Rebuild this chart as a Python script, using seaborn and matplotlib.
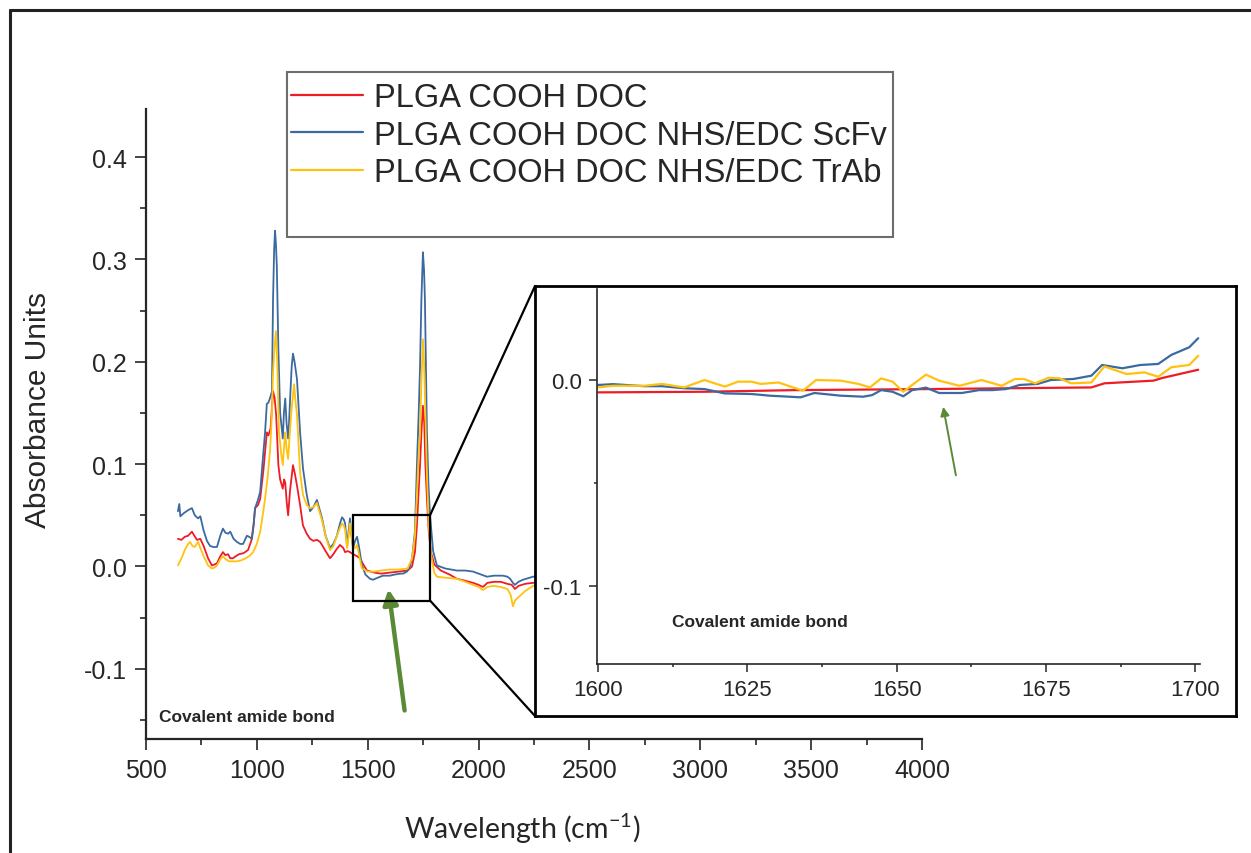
import numpy as np
import pandas as pd
import matplotlib
matplotlib.use("Agg")
import matplotlib.pyplot as plt
import seaborn as sns
from matplotlib.lines import Line2D
from matplotlib.patches import Rectangle
from matplotlib.ticker import MultipleLocator

# series names and colours
series_names = ["PLGA COOH DOC", "PLGA COOH DOC NHS/EDC ScFv", "PLGA COOH DOC NHS/EDC TrAb"]
series_colors = ["#ee1c25", "#3b6aa0", "#ffc20e"]

# main spectrum
red_wn = [644, 660, 675, 690, 707, 718, 730, 745, 760, 780, 797, 810, 820, 835, 847, 858, 870, 880, 892, 905,
          920, 940, 960, 975, 985, 992, 1005, 1015, 1030, 1045, 1052, 1062, 1073, 1080, 1087, 1097, 1105, 1117,
          1123, 1128, 1135, 1141, 1150, 1163, 1172, 1181, 1195, 1208, 1225, 1240, 1255, 1271, 1285, 1294, 1310,
          1330, 1345, 1360, 1375, 1390, 1398, 1410, 1420, 1434, 1452, 1465, 1480, 1497, 1530, 1560, 1600, 1640,
          1680, 1700, 1713, 1722, 1730, 1736, 1742, 1749, 1755, 1760, 1767, 1775, 1785, 1800, 1830, 1870, 1902,
          1940, 1975, 2000, 2020, 2040, 2070, 2100, 2130, 2150, 2164, 2180, 2210, 2246, 2300]
red_abs = [0.027, 0.026, 0.029, 0.030, 0.034, 0.030, 0.026, 0.027, 0.020, 0.008, 0.001, 0.002, 0.003, 0.010,
           0.014, 0.011, 0.012, 0.008, 0.008, 0.010, 0.012, 0.013, 0.016, 0.025, 0.040, 0.057, 0.060, 0.066,
           0.095, 0.131, 0.128, 0.135, 0.171, 0.165, 0.148, 0.099, 0.085, 0.076, 0.085, 0.082, 0.062, 0.050,
           0.075, 0.099, 0.090, 0.079, 0.060, 0.040, 0.032, 0.027, 0.025, 0.026, 0.024, 0.021, 0.015, 0.008,
           0.012, 0.017, 0.021, 0.018, 0.014, 0.015, 0.014, 0.012, 0.010, 0.008, 0.002, -0.004, -0.006, -0.007,
           -0.006, -0.005, -0.004, 0.000, 0.014, 0.040, 0.075, 0.099, 0.130, 0.157, 0.140, 0.100, 0.066, 0.035,
           0.014, 0.002, -0.004, -0.008, -0.012, -0.014, -0.016, -0.018, -0.020, -0.016, -0.015, -0.015, -0.017,
           -0.018, -0.022, -0.019, -0.017, -0.016, -0.015]

blue_wn = [644, 650, 655, 670, 690, 707, 720, 735, 745, 760, 775, 789, 805, 820, 835, 847, 858, 870, 880, 895,
           910, 925, 938, 955, 965, 978, 985, 992, 1005, 1015, 1025, 1037, 1045, 1052, 1060, 1068, 1073, 1078,
           1082, 1086, 1090, 1097, 1105, 1117, 1122, 1128, 1134, 1141, 1145, 1150, 1157, 1163, 1170, 1181, 1195,
           1208, 1225, 1240, 1255, 1271, 1280, 1294, 1310, 1330, 1345, 1361, 1375, 1384, 1392, 1398, 1407, 1414,
           1420, 1427, 1434, 1443, 1452, 1460, 1474, 1490, 1510, 1524, 1545, 1569, 1600, 1620, 1646, 1660, 1677,
           1690, 1700, 1713, 1722, 1730, 1736, 1742, 1749, 1754, 1758, 1763, 1767, 1774, 1781, 1795, 1812, 1850,
           1902, 1940, 1975, 2000, 2038, 2070, 2110, 2130, 2142, 2155, 2164, 2180, 2200, 2246, 2300]
blue_abs = [0.054, 0.061, 0.049, 0.052, 0.055, 0.057, 0.050, 0.047, 0.049, 0.035, 0.025, 0.020, 0.019, 0.019,
            0.030, 0.037, 0.033, 0.032, 0.034, 0.027, 0.024, 0.022, 0.022, 0.030, 0.029, 0.027, 0.040, 0.057,
            0.065, 0.073, 0.100, 0.131, 0.159, 0.160, 0.165, 0.171, 0.261, 0.310, 0.328, 0.315, 0.294, 0.213,
            0.150, 0.125, 0.150, 0.164, 0.140, 0.125, 0.140, 0.164, 0.195, 0.208, 0.200, 0.183, 0.131, 0.096,
            0.070, 0.054, 0.058, 0.065, 0.058, 0.047, 0.030, 0.018, 0.022, 0.030, 0.042, 0.048, 0.046, 0.042,
            0.020, 0.035, 0.047, 0.030, 0.018, 0.025, 0.029, 0.020, 0.001, -0.008, -0.012, -0.013, -0.011, -0.009,
            -0.009, -0.008, -0.007, -0.007, -0.005, 0.000, 0.008, 0.034, 0.099, 0.150, 0.196, 0.260, 0.307, 0.290,
            0.261, 0.190, 0.131, 0.080, 0.050, 0.015, 0.001, -0.002, -0.004, -0.004, -0.005, -0.007, -0.010,
            -0.009, -0.009, -0.010, -0.012, -0.016, -0.018, -0.015, -0.013, -0.010, -0.009]

yellow_wn = [644, 660, 675, 690, 698, 710, 720, 735, 745, 760, 780, 797, 810, 820, 835, 847, 860, 875, 890, 910,
             930, 950, 965, 983, 1000, 1015, 1025, 1037, 1050, 1060, 1068, 1073, 1080, 1086, 1092, 1100, 1110,
             1117, 1124, 1128, 1134, 1141, 1150, 1158, 1168, 1175, 1181, 1195, 1208, 1225, 1240, 1255, 1271, 1280,
             1294, 1310, 1330, 1345, 1361, 1375, 1384, 1392, 1398, 1407, 1414, 1420, 1427, 1434, 1443, 1452, 1462,
             1474, 1500, 1530, 1560, 1600, 1640, 1680, 1700, 1713, 1722, 1730, 1736, 1742, 1749, 1754, 1760, 1767,
             1775, 1785, 1800, 1812, 1850, 1902, 1940, 1975, 2000, 2020, 2040, 2070, 2100, 2130, 2145, 2155, 2165,
             2180, 2210, 2246, 2300]
yellow_abs = [0.001, 0.008, 0.016, 0.022, 0.024, 0.020, 0.019, 0.024, 0.018, 0.010, 0.001, -0.002, -0.001, 0.001,
              0.007, 0.010, 0.007, 0.005, 0.005, 0.005, 0.006, 0.008, 0.010, 0.014, 0.022, 0.034, 0.048, 0.066,
              0.090, 0.115, 0.150, 0.190, 0.215, 0.230, 0.200, 0.131, 0.110, 0.099, 0.120, 0.131, 0.115, 0.105,
              0.135, 0.157, 0.178, 0.160, 0.148, 0.092, 0.070, 0.060, 0.057, 0.058, 0.062, 0.055, 0.045, 0.030,
              0.016, 0.020, 0.030, 0.038, 0.042, 0.040, 0.036, 0.018, 0.030, 0.042, 0.030, 0.018, 0.018, 0.021,
              0.010, -0.002, -0.005, -0.005, -0.004, -0.003, -0.003, -0.002, 0.008, 0.030, 0.070, 0.110, 0.131,
              0.180, 0.222, 0.200, 0.150, 0.090, 0.040, 0.012, -0.006, -0.010, -0.011, -0.012, -0.015, -0.018,
              -0.020, -0.023, -0.020, -0.019, -0.020, -0.022, -0.028, -0.039, -0.033, -0.030, -0.024, -0.019, -0.017]

# zoomed region 1600-1700
red_zoom_wn = [1600, 1617.8, 1633, 1655, 1682.6, 1684.8, 1693, 1694.5, 1700.5]
red_zoom_abs = [-0.0060, -0.0057, -0.0049, -0.0044, -0.0036, -0.0016, -0.0003, 0.0010, 0.0050]

blue_zoom_wn = [1600, 1602.5, 1607.7, 1610.7, 1614.4, 1617.8, 1621.2, 1625.7, 1628.7, 1633.9, 1636.2, 1640.6,
                1644.4, 1645.9, 1647.4, 1649.3, 1651.1, 1652.6, 1654.9, 1657.1, 1660.9, 1663.8, 1666, 1668.3,
                1670.6, 1673.6, 1675.8, 1679.6, 1682.6, 1684.4, 1687.8, 1690.8, 1693.8, 1696.0, 1699.0, 1700.5]
blue_zoom_abs = [-0.0024, -0.0020, -0.0030, -0.0030, -0.0040, -0.0044, -0.0065, -0.0068, -0.0076, -0.0084,
                 -0.0063, -0.0076, -0.0081, -0.0073, -0.0049, -0.0057, -0.0079, -0.0049, -0.0037, -0.0063,
                 -0.0063, -0.0049, -0.0049, -0.0044, -0.0024, -0.0019, 0.0000, 0.0005, 0.0021, 0.0073, 0.0057,
                 0.0073, 0.0078, 0.0122, 0.0159, 0.0203]

yellow_zoom_wn = [1600, 1602.5, 1607.7, 1610.7, 1614.4, 1617.8, 1621.2, 1623.4, 1625.7, 1627.2, 1630.2, 1634.3,
                  1636.5, 1640.6, 1643.6, 1645.5, 1647.4, 1649.3, 1651.1, 1652.6, 1654.9, 1657.1, 1660.5, 1664.2,
                  1667.6, 1669.8, 1671.3, 1673.2, 1675.4, 1677.3, 1679.2, 1682.6, 1684.8, 1688.5, 1691.5, 1693.8,
                  1696.0, 1699.0, 1700.5]
yellow_zoom_abs = [-0.0036, -0.0028, -0.0028, -0.0019, -0.0036, 0.0000, -0.0032, -0.0008, -0.0008, -0.0019,
                   -0.0012, -0.0052, 0.0000, -0.0003, -0.0019, -0.0036, 0.0008, -0.0008, -0.0057, -0.0024,
                   0.0026, -0.0003, -0.0028, 0.0000, -0.0028, 0.0005, 0.0005, -0.0016, 0.0011, 0.0008, -0.0016,
                   -0.0012, 0.0066, 0.0029, 0.0037, 0.0016, 0.0062, 0.0073, 0.0118]

main_df = pd.concat([
    pd.DataFrame({"wn": red_wn, "abs": red_abs, "sample": series_names[0]}),
    pd.DataFrame({"wn": blue_wn, "abs": blue_abs, "sample": series_names[1]}),
    pd.DataFrame({"wn": yellow_wn, "abs": yellow_abs, "sample": series_names[2]}),
])
zoom_df = pd.concat([
    pd.DataFrame({"wn": red_zoom_wn, "abs": red_zoom_abs, "sample": series_names[0]}),
    pd.DataFrame({"wn": blue_zoom_wn, "abs": blue_zoom_abs, "sample": series_names[1]}),
    pd.DataFrame({"wn": yellow_zoom_wn, "abs": yellow_zoom_abs, "sample": series_names[2]}),
])
palette = dict(zip(series_names, series_colors))

sns.set_style("ticks")
plt.rcParams["font.family"] = ["Liberation Sans", "DejaVu Sans"]
plt.rcParams["axes.unicode_minus"] = False
plt.rcParams["mathtext.fontset"] = "custom"
plt.rcParams["mathtext.rm"] = "Lato"
plt.rcParams["mathtext.it"] = "Lato"

W, H = 1251, 854
fig = plt.figure(figsize=(W / 100, H / 100), dpi=100)


def px_rect(x0, y0, x1, y1):
    # pixel box (top-left origin) -> figure fraction rect
    return [x0 / W, 1 - y1 / H, (x1 - x0) / W, (y1 - y0) / H]


green = "#5a8a35"

# main axes
ax = fig.add_axes(px_rect(146, 110, 922, 740))
sns.lineplot(data=main_df, x="wn", y="abs", hue="sample", palette=palette, estimator=None,
             lw=1.3, legend=False, ax=ax)
ax.set_xlim(500, 4000)
ax.set_ylim(-0.1686, 0.447)
ax.xaxis.set_major_locator(MultipleLocator(500))
ax.xaxis.set_minor_locator(MultipleLocator(250))
ax.yaxis.set_major_locator(MultipleLocator(0.1))
ax.yaxis.set_minor_locator(MultipleLocator(0.05))
ax.yaxis.set_major_formatter(matplotlib.ticker.FormatStrFormatter("%.1f"))
ax.tick_params(which="major", direction="out", length=8, width=1.2, labelsize=18, pad=6)
ax.tick_params(which="minor", direction="out", length=4, width=1.2)
sns.despine(ax=ax)
for s in ["left", "bottom"]:
    ax.spines[s].set_linewidth(1.6)
ax.set_xlabel("Wavelength (cm$^{-1}$)", fontsize=20.5, family="Lato")
ax.set_ylabel("Absorbance Units", fontsize=21.5)
ax.xaxis.set_label_coords(0.4845, -0.114)
ax.yaxis.set_label_coords(-0.121, 0.524)
ax.text(559, -0.151, "Covalent amide bond", fontsize=12.5, fontweight="bold", va="baseline")
ax.annotate("", xy=(1592, -0.0195), xytext=(1668, -0.1434),
            arrowprops=dict(arrowstyle="-|>", color=green, lw=3.2, mutation_scale=22))

# zoom region box on the main plot
zx0, zx1, zy0, zy1 = 1434, 1781, -0.0333, 0.05
ax.add_patch(Rectangle((zx0, zy0), zx1 - zx0, zy1 - zy0, fill=False, ec="black", lw=1.6, zorder=5))

# inset frame
box = fig.add_axes(px_rect(535, 287, 1236, 717))
box.set_facecolor("white")
box.set_xticks([])
box.set_yticks([])
for s in box.spines.values():
    s.set_linewidth(2)
    s.set_color("black")

# connector lines
tr = ax.transData
for (dx, dy), (fx, fy) in [((zx1, zy1), (535, 287)), ((zx1, zy0), (535, 717))]:
    x0, y0 = fig.transFigure.inverted().transform(tr.transform((dx, dy)))
    fig.add_artist(Line2D([x0, fx / W], [y0, 1 - fy / H], color="black", lw=1.6))

# inset axes
axi = fig.add_axes(px_rect(597, 290, 1200, 665))
axi.patch.set_alpha(0)
sns.lineplot(data=zoom_df, x="wn", y="abs", hue="sample", palette=palette, estimator=None,
             lw=1.6, legend=False, ax=axi)
axi.set_xlim(1599.8, 1700.8)
axi.set_ylim(-0.1379, 0.0442)
axi.xaxis.set_major_locator(MultipleLocator(25))
axi.xaxis.set_minor_locator(MultipleLocator(12.5))
axi.yaxis.set_major_locator(MultipleLocator(0.1))
axi.yaxis.set_minor_locator(MultipleLocator(0.05))
axi.yaxis.set_major_formatter(matplotlib.ticker.FormatStrFormatter("%.1f"))
axi.tick_params(which="major", direction="out", length=6, width=1.1, labelsize=16, pad=5)
axi.tick_params(which="minor", direction="out", length=2.5, width=1.1)
sns.despine(ax=axi)
for s in ["left", "bottom"]:
    axi.spines[s].set_linewidth(1.2)
axi.set_xlabel("")
axi.set_ylabel("")
axi.text(1612.3, -0.1194, "Covalent amide bond", fontsize=12.5, fontweight="bold", va="baseline")
axi.annotate("", xy=(1657.7, -0.0117), xytext=(1660, -0.0476),
             arrowprops=dict(arrowstyle="-|>", color=green, lw=1.4, mutation_scale=13))

# legend with its own box
handles = [Line2D([], [], color=c, lw=1.6) for c in series_colors]
fig.legend(handles, series_names, loc="upper left", bbox_to_anchor=(291 / W, 1 - 83 / H),
           frameon=False, fontsize=23.5, handlelength=2.2, handletextpad=0.34, labelspacing=0.2,
           borderpad=0, borderaxespad=0)
fig.add_artist(Rectangle((287 / W, 1 - 238 / H), 606 / W, 165 / H, transform=fig.transFigure,
                         fill=False, ec="#6d6d6d", lw=1.5))

# outer frame (left and top edges)
fig.add_artist(Line2D([10 / W, 10 / W], [0, 1 - 11 / H], color="#222222", lw=2.2))
fig.add_artist(Line2D([10 / W, 1], [1 - 11 / H, 1 - 11 / H], color="#222222", lw=2.2))

fig.savefig("out.png", dpi=100)
